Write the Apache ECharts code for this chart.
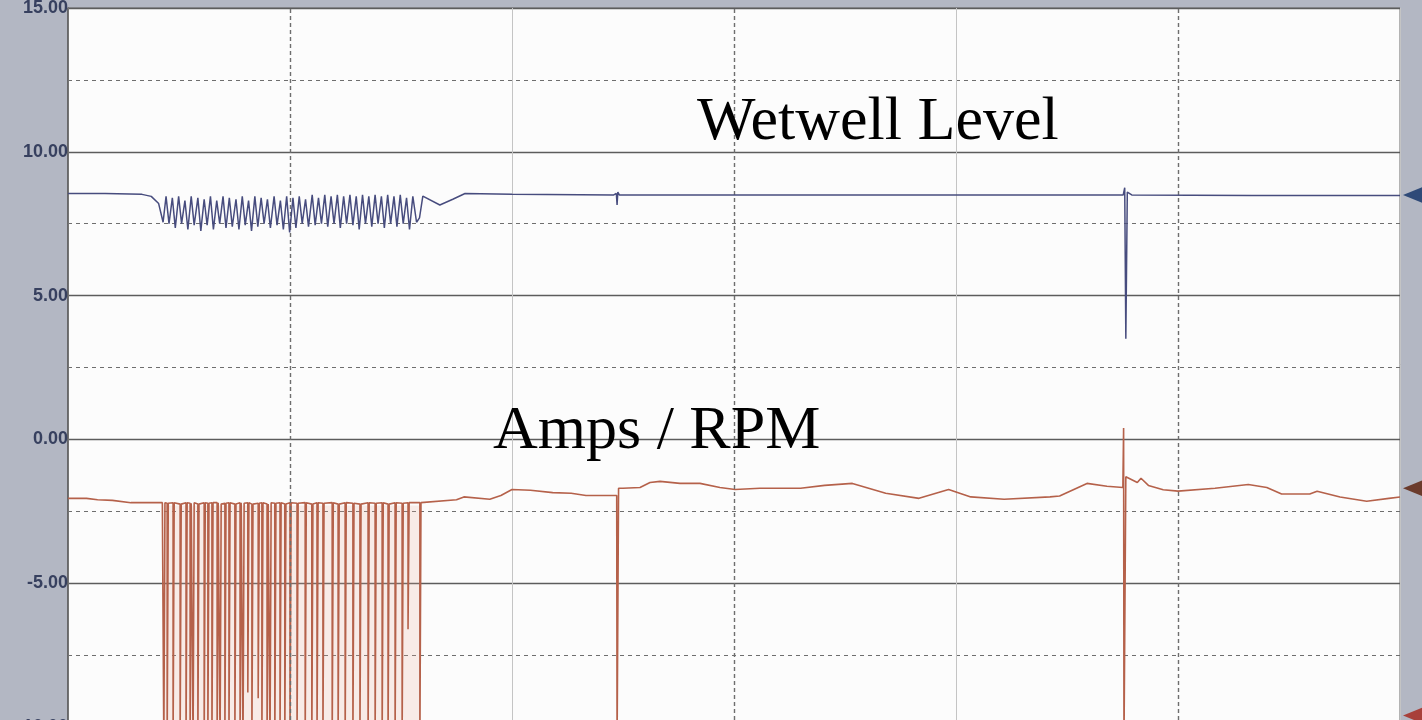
<!DOCTYPE html>
<html><head><meta charset="utf-8">
<script src="https://cdn.jsdelivr.net/npm/echarts@6/dist/echarts.min.js"></script>
<style>html,body{margin:0;padding:0;background:#b3b7c3;}#c{width:1422px;height:720px;}</style>
</head><body><div id="c"></div>
<script>
// ---- data (x in minutes, 0..360; y in chart units) ----
const yTicks = [-10, -5, 0, 5, 10, 15];
const xDashedLines = [60, 180, 300];
const annotations = ['Wetwell Level', 'Amps / RPM'];

const wetwell = [
  [0,8.55],[10,8.55],[20,8.52],[22.5,8.45],[24.5,8.2],[25.7,7.55],
  [26.5,8.45],[27.3,7.5],[28.2,8.4],[29.0,7.35],[29.9,8.45],[30.7,7.5],[31.6,8.3],[32.4,7.3],
  [33.3,8.45],[34.1,7.45],[35.1,8.4],[35.9,7.25],[36.8,8.35],[37.6,7.45],[38.5,8.45],[39.3,7.3],
  [40.2,8.3],[41.0,7.5],[41.9,8.45],[42.7,7.35],[43.6,8.4],[44.4,7.4],[45.4,8.35],[46.2,7.3],
  [47.1,8.45],[47.9,7.45],[48.8,8.3],[49.6,7.25],[50.5,8.45],[51.3,7.4],[52.2,8.4],[53.0,7.5],
  [53.9,8.35],[54.7,7.35],[55.7,8.45],[56.5,7.45],[57.4,8.3],[58.2,7.3],[59.1,8.45],[59.9,7.2],
  [60.8,8.4],[61.6,7.35],[62.5,8.45],[63.3,7.5],[64.2,8.35],[65.0,7.4],[66.0,8.5],[66.8,7.45],
  [67.7,8.4],[68.5,7.5],[69.4,8.5],[70.2,7.4],[71.1,8.45],[71.9,7.5],[72.8,8.5],[73.6,7.35],
  [74.5,8.45],[75.3,7.5],[76.2,8.5],[77.0,7.45],[77.9,8.45],[78.7,7.3],[79.6,8.5],[80.4,7.5],
  [81.3,8.45],[82.1,7.4],[83.0,8.5],[83.8,7.5],[84.7,8.45],[85.5,7.35],[86.4,8.5],[87.2,7.5],
  [88.1,8.45],[88.9,7.4],[89.8,8.5],[90.6,7.5],[91.5,8.4],[92.3,7.3],[93.2,8.45],[94.2,7.55],
  [95.0,7.7],[95.9,8.46],[100.5,8.15],[104,8.35],[107.3,8.55],[120,8.52],[147.5,8.5],
  [148.2,8.55],[148.4,8.15],[148.6,8.6],[149,8.5],[200,8.5],[250,8.5],[285.2,8.5],
  [285.6,8.75],[285.9,3.5],[286.3,8.6],[287.5,8.5],[320,8.48],[360,8.48]
];

const ampPre = [[0,-2.05],[5,-2.05],[8,-2.1],[12,-2.12],[17,-2.2],[25.5,-2.2]];
const ampPulseT = [25.9,26.8,28.4,30.3,31.9,33.0,33.8,35.1,36.8,37.8,38.9,40.3,41.1,42.4,43.5,45.1,
  46.5,47.3,48.6,49.7,51.4,52.4,53.8,54.6,55.9,57.3,58.6,60.0,61.9,64.1,65.9,67.3,68.9,71.4,73.0,
  74.9,77.0,78.9,81.1,83.0,84.9,86.5,88.4,90.3,91.9,95.1];
const ampPulseTop = [-2.2,-2.22,-2.2,-2.25,-2.2,-2.22,-2.2,-2.25,-2.2,-2.22,-2.2,-2.2,-2.25,-2.22,-2.2,-2.25,
  -2.2,-2.22,-2.2,-2.25,-2.22,-2.2,-2.25,-2.2,-2.22,-2.2,-2.25,-2.2,-2.22,-2.2,-2.25,-2.2,-2.22,-2.2,-2.25,
  -2.2,-2.22,-2.25,-2.2,-2.22,-2.2,-2.25,-2.2,-2.22,-2.2,-2.2];
const ampPulseLow = [-10.6,-10.6,-10.6,-10.6,-10.6,-10.6,-10.6,-10.6,-10.6,-10.6,-10.6,-10.6,-10.6,-10.6,-10.6,-10.6,
  -10.6,-10.6,-8.8,-10.6,-9.0,-10.6,-10.6,-10.6,-10.6,-10.6,-10.6,-10.6,-10.6,-10.6,-10.6,-10.6,-10.6,-10.6,-10.6,
  -10.6,-10.6,-10.6,-10.6,-10.6,-10.6,-10.6,-10.6,-10.6,-6.6,-10.6];
const ampPulseWidth = 0.3;
const ampPost = [
  [95.5,-2.15],[105,-2.1],[107,-2.0],[114,-2.08],[117,-1.95],[120,-1.74],[125,-1.77],[131,-1.85],
  [136,-1.87],[140,-1.95],[148.3,-1.95],[148.4,-10.6],[148.7,-10.6],[148.8,-1.7],[150,-1.7],
  [154.6,-1.67],[157.3,-1.5],[160,-1.46],[165.4,-1.53],[170.8,-1.53],[176.2,-1.67],[180.3,-1.74],
  [187,-1.7],[198,-1.7],[204.5,-1.6],[212,-1.53],[221,-1.87],[230,-2.05],[238,-1.74],[244,-2.0],
  [253,-2.08],[265.4,-2.0],[268,-1.97],[275.4,-1.53],[280.8,-1.63],[285.1,-1.67],[285.3,0.4],
  [285.4,-10.6],[285.7,-10.6],[285.9,-1.3],[289,-1.5],[290,-1.35],[292,-1.6],[296,-1.75],[300,-1.8],
  [310,-1.7],[319,-1.57],[324,-1.67],[328,-1.9],[335.6,-1.9],[337.6,-1.8],[343.8,-2.0],[351,-2.15],
  [357,-2.05],[360,-2.0]
];

// ---- build series data ----
const amps = ampPre.slice();
ampPulseT.forEach((t, i) => {
  amps.push([t, ampPulseTop[i]], [t, ampPulseLow[i]], [t + ampPulseWidth, ampPulseLow[i]], [t + ampPulseWidth, ampPulseTop[i]]);
});
ampPost.forEach(p => amps.push(p));

const chart = echarts.init(document.getElementById('c'), null, {renderer: 'canvas'});
chart.setOption({
  backgroundColor: '#b3b7c3',
  animation: false,
  grid: {left: 68, right: 22, top: 8, bottom: -7, outerBoundsMode: 'none', containLabel: false,
    show: true, backgroundColor: '#fcfcfc', borderColor: '#6a6a6a', borderWidth: 1},
  xAxis: [{
    type: 'value', min: 0, max: 360, interval: 120,
    axisLine: {show: false}, axisTick: {show: false}, axisLabel: {show: false},
    splitLine: {show: true, lineStyle: {color: '#c4c4c4', width: 1}}
  }],
  yAxis: [{
    type: 'value', min: -10, max: 15, interval: 2.5,
    axisLine: {show: false}, axisTick: {show: false}, axisLabel: {show: false},
    splitLine: {show: true, lineStyle: {color: '#6e6e6e', width: 1, type: [4, 4]}}
  }, {
    type: 'value', min: -10, max: 15, interval: 5, position: 'left',
    axisLine: {show: true, lineStyle: {color: '#5a5a5a', width: 1.5}}, axisTick: {show: false},
    axisLabel: {show: true, margin: 0, showMinLabel: true, showMaxLabel: true,
      formatter: v => v.toFixed(2), color: '#37405f', fontFamily: 'Liberation Sans, Arial', fontWeight: 'bold', fontSize: 18},
    splitLine: {show: true, lineStyle: {color: '#5c5c5c', width: 1.3}}
  }],
  series: [{
    name: 'Wetwell Level', type: 'line', data: wetwell, showSymbol: false, yAxisIndex: 0,
    lineStyle: {color: '#474c7e', width: 1.5}, z: 5,
    markLine: {
      silent: true, symbol: 'none', label: {show: false},
      lineStyle: {color: '#6e6e6e', width: 1.4, type: [4, 3]},
      data: xDashedLines.map(x => ({xAxis: x}))
    },
    markPoint: {
      silent: true, symbol: 'triangle', symbolSize: [18, 22], symbolRotate: 90, symbolOffset: [14, 0],
      itemStyle: {color: '#2f4a78'}, label: {show: false},
      data: [{coord: [360, 8.5]}]
    }
  }, {
    name: 'Amps / RPM', type: 'line', data: amps, showSymbol: false, yAxisIndex: 0,
    lineStyle: {color: '#b5614a', width: 1.6}, z: 4,
    markArea: {
      silent: true, itemStyle: {color: 'rgba(236,170,150,0.2)'},
      data: [[{xAxis: ampPulseT[0], yAxis: -10}, {xAxis: ampPulseT[ampPulseT.length - 1] + ampPulseWidth, yAxis: -2.3}]]
    },
    markPoint: {
      silent: true, symbol: 'triangle', symbolSize: [18, 22], symbolRotate: 90, symbolOffset: [14, 0],
      itemStyle: {color: '#6b3b2c'}, label: {show: false},
      data: [{coord: [360, -1.7]}, {coord: [360, -9.6], itemStyle: {color: '#a8403a'}}]
    }
  }],
  graphic: [{
    type: 'text', left: 697, top: 92, z: 10,
    style: {text: annotations[0], font: '62px "Liberation Serif", "Times New Roman", serif', fill: '#000'}
  }, {
    type: 'text', left: 493, top: 401, z: 10,
    style: {text: annotations[1], font: '62px "Liberation Serif", "Times New Roman", serif', fill: '#000'}
  }]
});
</script></body></html>
